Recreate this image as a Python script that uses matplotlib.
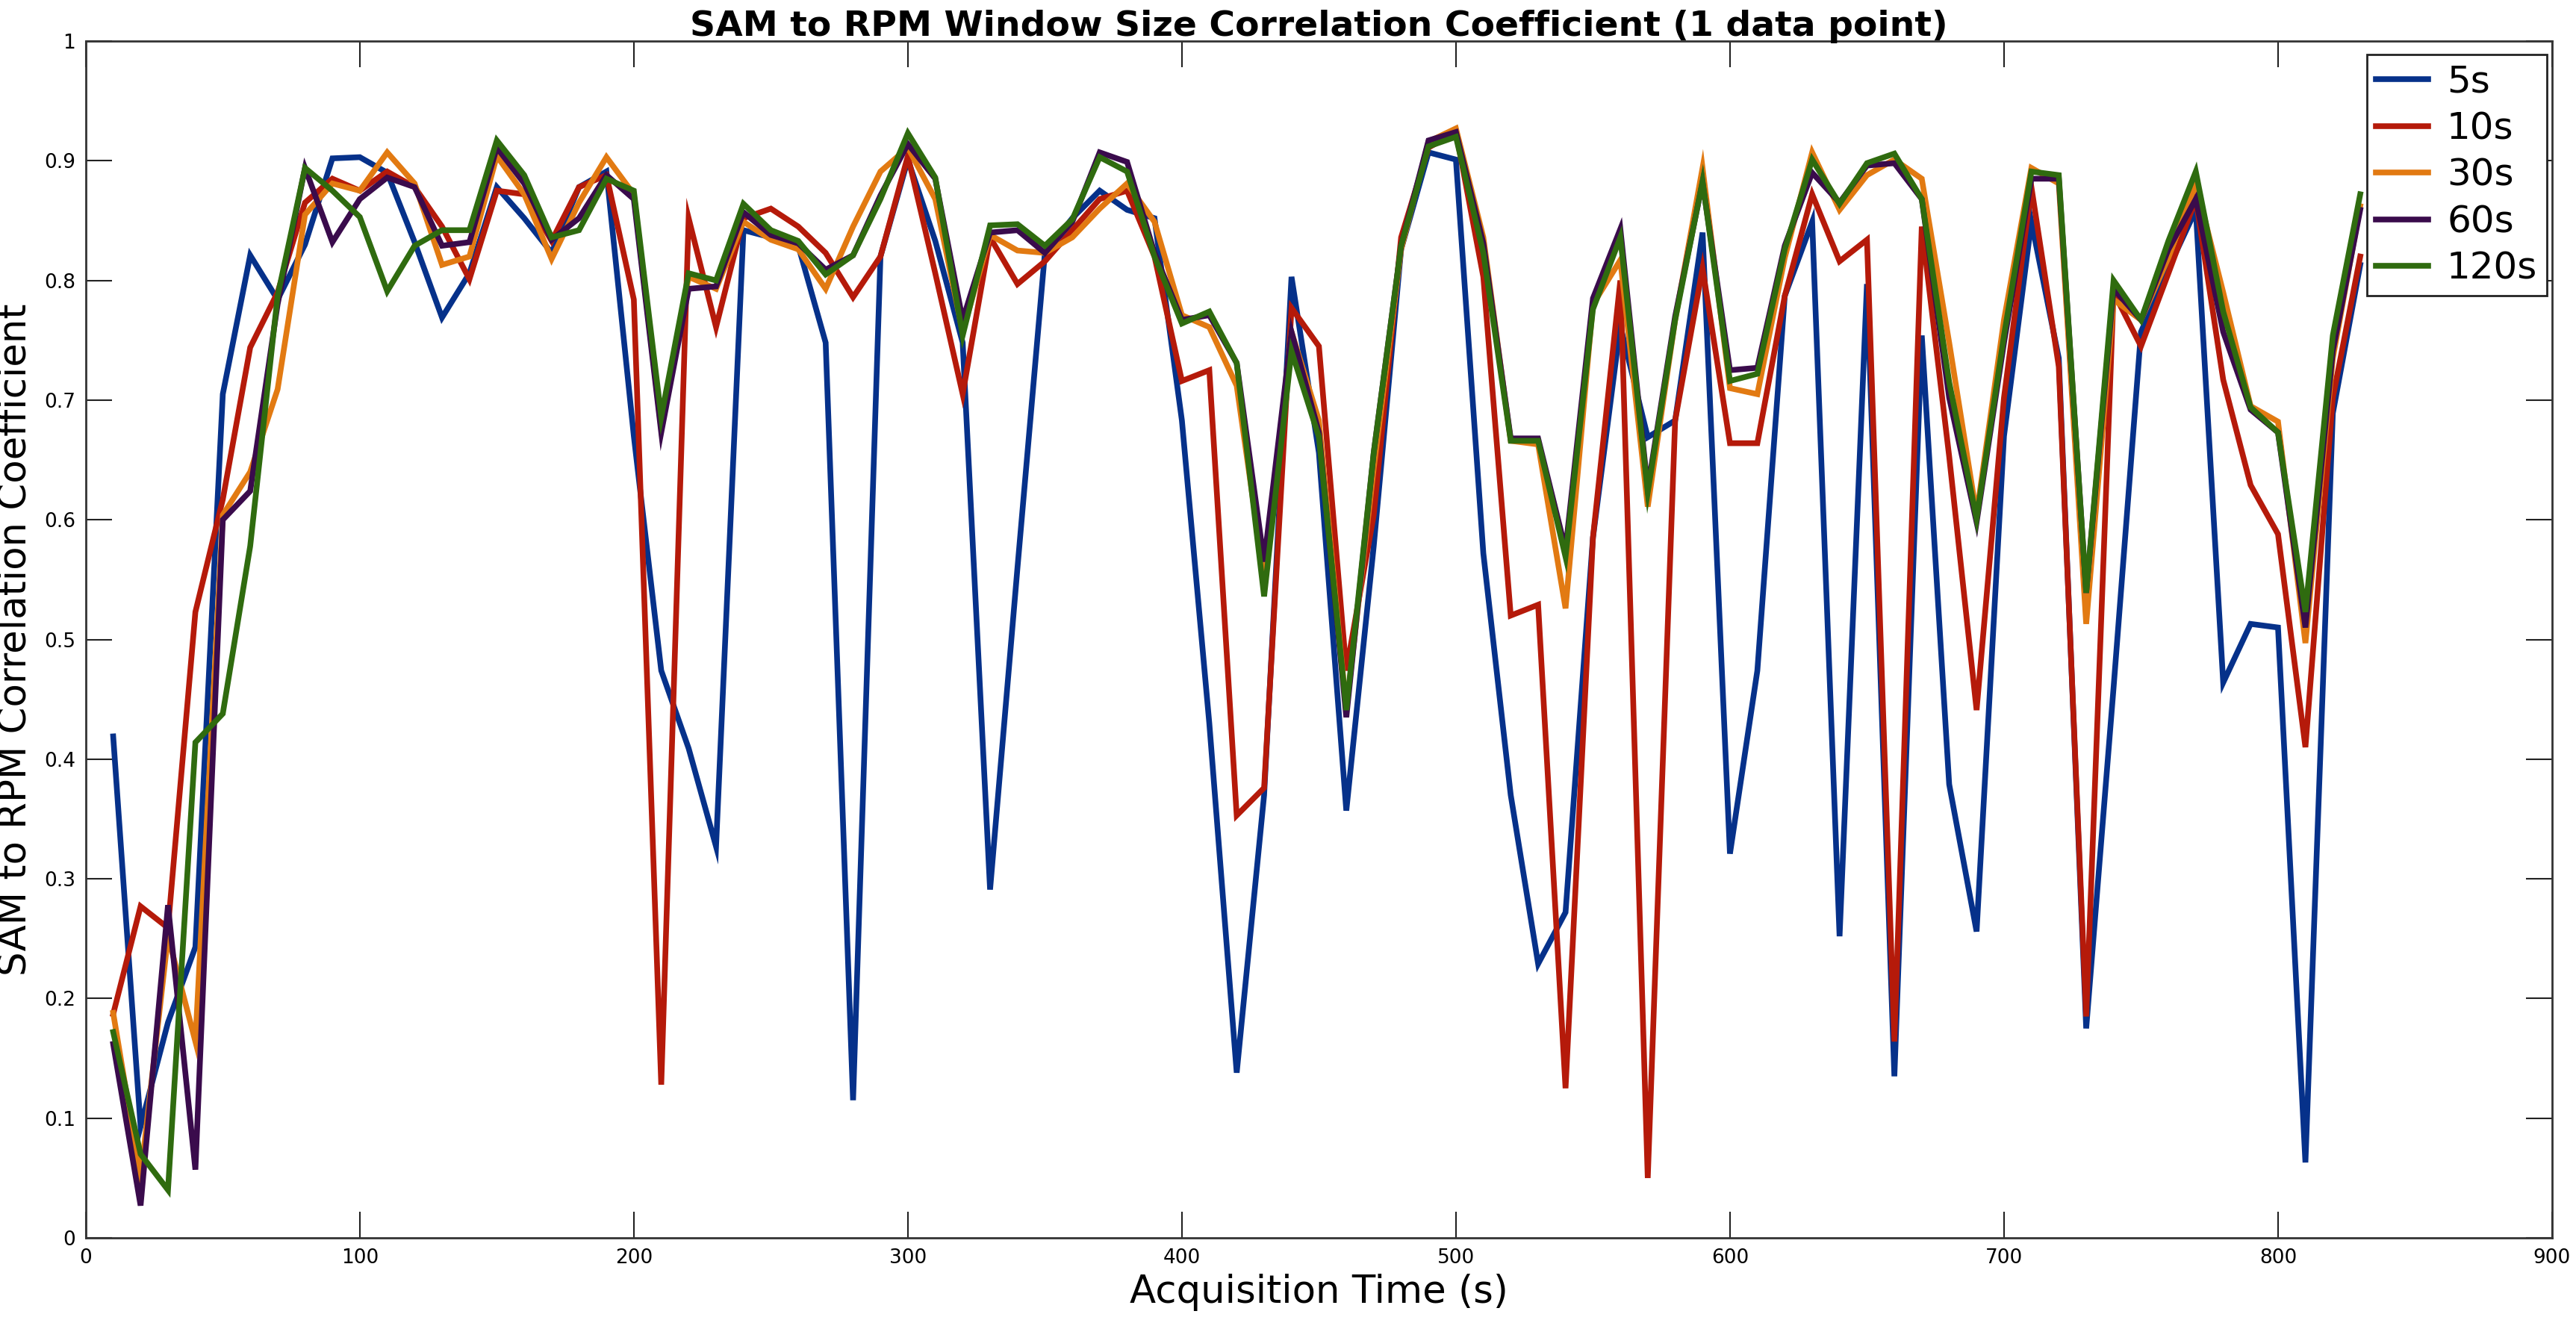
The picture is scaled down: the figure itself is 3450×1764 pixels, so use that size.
import matplotlib
matplotlib.use("Agg")
import matplotlib.pyplot as plt
from matplotlib.ticker import FixedLocator, FixedFormatter

times = list(range(10, 840, 10))

s5 = [0.419, 0.093, 0.18, 0.243, 0.705, 0.821, 0.784, 0.83, 0.902, 0.903,
      0.89, 0.832, 0.769, 0.806, 0.878, 0.852, 0.823, 0.878, 0.891, 0.67,
      0.474, 0.409, 0.327, 0.842, 0.836, 0.829, 0.748, 0.115, 0.82, 0.901,
      0.833, 0.748, 0.291, 0.56, 0.823, 0.852, 0.875, 0.859, 0.852, 0.683,
      0.43, 0.138, 0.37, 0.803, 0.656, 0.357, 0.578, 0.826, 0.907, 0.901,
      0.572, 0.37, 0.229, 0.272, 0.585, 0.762, 0.669, 0.683, 0.84, 0.321,
      0.474, 0.787, 0.849, 0.252, 0.797, 0.135, 0.754, 0.379, 0.256, 0.67,
      0.849, 0.735, 0.175, 0.46, 0.757, 0.81, 0.859, 0.464, 0.513, 0.51,
      0.063, 0.689, 0.813]

s10 = [0.187, 0.277, 0.259, 0.523, 0.617, 0.744, 0.79, 0.865, 0.885, 0.875,
       0.891, 0.878, 0.845, 0.801, 0.875, 0.872, 0.833, 0.878, 0.888, 0.784,
       0.128, 0.852, 0.761, 0.852, 0.86, 0.845, 0.823, 0.786, 0.82, 0.904,
       0.806, 0.705, 0.836, 0.797, 0.816, 0.842, 0.868, 0.875, 0.82, 0.716,
       0.725, 0.353, 0.376, 0.777, 0.745, 0.474, 0.604, 0.836, 0.911, 0.924,
       0.803, 0.52, 0.529, 0.125, 0.585, 0.80, 0.05, 0.683, 0.81, 0.664,
       0.664, 0.787, 0.872, 0.816, 0.834, 0.164, 0.845, 0.653, 0.441, 0.702,
       0.878, 0.728, 0.185, 0.79, 0.745, 0.806, 0.868, 0.717, 0.629, 0.588,
       0.41, 0.702, 0.82]

s30 = [0.188, 0.05, 0.252, 0.164, 0.604, 0.64, 0.709, 0.855, 0.881, 0.875,
       0.907, 0.881, 0.813, 0.82, 0.904, 0.872, 0.818, 0.865, 0.903, 0.872,
       0.676, 0.803, 0.793, 0.849, 0.834, 0.826, 0.793, 0.845, 0.891, 0.911,
       0.868, 0.757, 0.838, 0.825, 0.823, 0.836, 0.86, 0.881, 0.849, 0.771,
       0.761, 0.712, 0.552, 0.757, 0.683, 0.441, 0.643, 0.826, 0.916, 0.927,
       0.836, 0.666, 0.663, 0.526, 0.78, 0.817, 0.611, 0.767, 0.894, 0.71,
       0.705, 0.819, 0.907, 0.859, 0.888, 0.901, 0.885, 0.748, 0.604, 0.767,
       0.894, 0.881, 0.513, 0.784, 0.767, 0.819, 0.881, 0.79, 0.695, 0.682,
       0.497, 0.735, 0.862]

s60 = [0.162, 0.027, 0.278, 0.057, 0.6, 0.624, 0.78, 0.894, 0.832, 0.868,
       0.886, 0.878, 0.829, 0.832, 0.911, 0.881, 0.834, 0.852, 0.888, 0.868,
       0.673, 0.793, 0.795, 0.857, 0.838, 0.831, 0.809, 0.821, 0.871, 0.914,
       0.885, 0.767, 0.84, 0.842, 0.823, 0.849, 0.907, 0.899, 0.823, 0.767,
       0.771, 0.731, 0.565, 0.757, 0.673, 0.435, 0.656, 0.829, 0.917, 0.924,
       0.831, 0.668, 0.668, 0.575, 0.785, 0.843, 0.626, 0.77, 0.882, 0.725,
       0.727, 0.829, 0.89, 0.865, 0.896, 0.898, 0.868, 0.702, 0.598, 0.748,
       0.885, 0.885, 0.539, 0.793, 0.767, 0.826, 0.868, 0.757, 0.692, 0.673,
       0.51, 0.741, 0.859]

s120 = [0.172, 0.07, 0.04, 0.414, 0.438, 0.578, 0.787, 0.894, 0.875, 0.853,
        0.791, 0.829, 0.842, 0.842, 0.917, 0.888, 0.836, 0.842, 0.885, 0.875,
        0.686, 0.806, 0.8, 0.864, 0.842, 0.833, 0.805, 0.821, 0.868, 0.923,
        0.886, 0.754, 0.846, 0.847, 0.829, 0.851, 0.903, 0.891, 0.82, 0.764,
        0.774, 0.731, 0.536, 0.741, 0.669, 0.441, 0.656, 0.829, 0.912, 0.92,
        0.823, 0.666, 0.666, 0.569, 0.776, 0.836, 0.623, 0.767, 0.883, 0.716,
        0.722, 0.826, 0.901, 0.864, 0.898, 0.906, 0.868, 0.715, 0.601, 0.754,
        0.891, 0.888, 0.539, 0.8, 0.767, 0.833, 0.891, 0.774, 0.694, 0.673,
        0.523, 0.754, 0.872]

labels = ["5s", "10s", "30s", "60s", "120s"]
series = [s5, s10, s30, s60, s120]
colors = ["#06318A", "#B51A0A", "#E27A12", "#3A0B4C", "#2F6B0F"]

xticks = [0, 100, 200, 300, 400, 500, 600, 700, 800, 900]
yticks = [0, 0.1, 0.2, 0.3, 0.4, 0.5, 0.6, 0.7, 0.8, 0.9, 1]
ytick_labels = ["0", "0.1", "0.2", "0.3", "0.4", "0.5", "0.6", "0.7", "0.8", "0.9", "1"]

fig = plt.figure(figsize=(34.5, 17.64), dpi=100)
ax = fig.add_axes([0.0333, 0.0601, 0.9574, 0.9087])

for lab, ys, c in zip(labels, series, colors):
    ax.plot(times, ys, color=c, lw=5.5, label=lab, solid_joinstyle="miter")

ax.set_xlim(0, 900)
ax.set_ylim(0, 1)
ax.xaxis.set_major_locator(FixedLocator(xticks))
ax.yaxis.set_major_locator(FixedLocator(yticks))
ax.yaxis.set_major_formatter(FixedFormatter(ytick_labels))
ax.tick_params(direction="in", length=25, width=1.5, labelsize=19,
               top=True, right=True, color="#222222", pad=10)
for sp in ax.spines.values():
    sp.set_linewidth(2)
    sp.set_color("#333333")

ax.set_title("SAM to RPM Window Size Correlation Coefficient (1 data point)",
             fontsize=34, fontweight="bold", pad=5)
ax.set_xlabel("Acquisition Time (s)", fontsize=37, labelpad=6)
ax.set_ylabel("SAM to RPM Correlation Coefficient", fontsize=37, labelpad=10)

leg = ax.legend(loc="upper right", bbox_to_anchor=(1 - 7 / 3303, 1 - 18 / 1603),
                fontsize=36, handlelength=1.4,
                labelspacing=0.29, handletextpad=0.5, borderpad=0.25,
                borderaxespad=0.0, fancybox=False, framealpha=1)
leg.get_frame().set_edgecolor("#222222")
leg.get_frame().set_linewidth(2)

fig.savefig("out.png", dpi=100)
